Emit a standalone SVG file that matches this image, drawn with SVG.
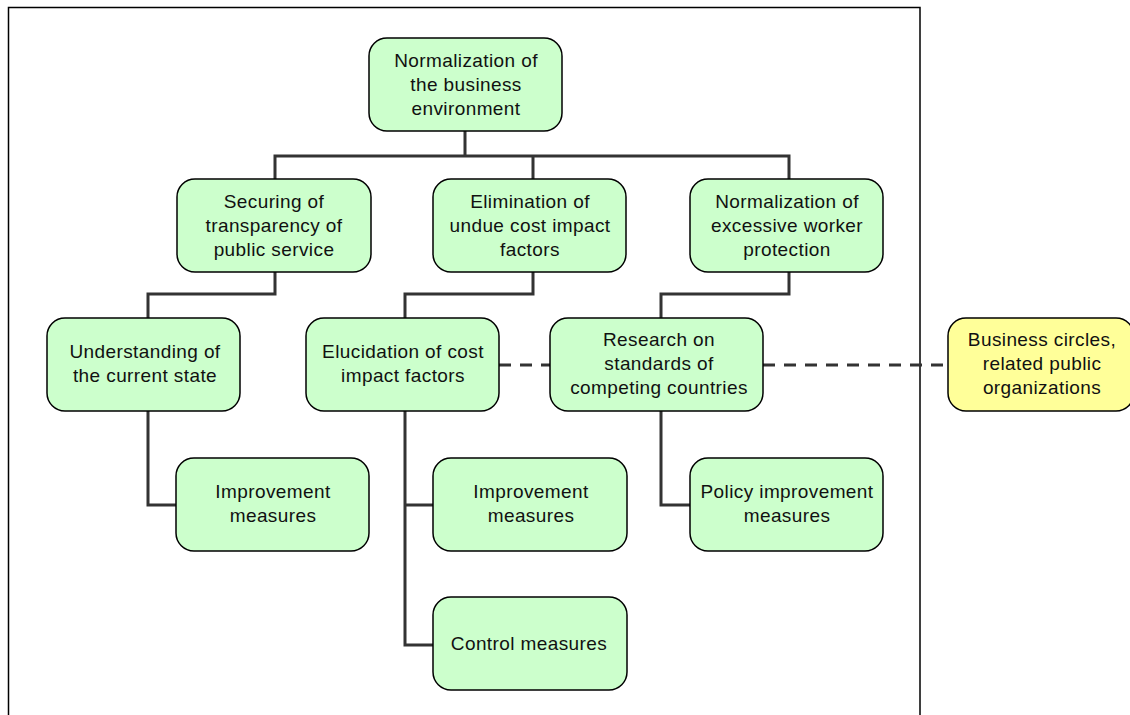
<svg xmlns="http://www.w3.org/2000/svg" width="1130" height="715" viewBox="0 0 1130 715">
  <style>
    .node rect { fill: #ccffcc; stroke: #000; stroke-width: 1.5; }
    .node.ext rect { fill: #ffff99; }
    .node text { font-family: "Liberation Sans", Arial, sans-serif; font-size: 19px; letter-spacing: 0.4px; fill: #111; text-anchor: middle; }
    .link { fill: none; stroke: #333; stroke-width: 3; }
    .dash { fill: none; stroke: #333; stroke-width: 3; stroke-dasharray: 12 9; }
  </style>
  <rect width="1130" height="715" fill="#fff"/>
  <!-- outer frame -->
  <path d="M8.5 715 V7.5 H920 V715" fill="none" stroke="#000" stroke-width="1.5"/>

  <g id="connectors">
    <path class="link" d="M465 131 V156 M275 179 V156 H789 V179 M533 156 V179"/>
    <path class="link" d="M275 272 V294 H148 V318"/>
    <path class="link" d="M533 272 V294 H405 V318"/>
    <path class="link" d="M789 272 V294 H661 V318"/>
    <path class="link" d="M148 411 V505 H176"/>
    <path class="link" d="M405 411 V645 H433 M405 505 H433"/>
    <path class="link" d="M661 411 V505 H690"/>
    <path class="dash" d="M499 365 H550"/>
    <path class="dash" d="M763 365 H948"/>
  </g>

  <g id="n-root" class="node">
    <rect x="369" y="38" width="193" height="93" rx="18"/>
    <text x="466" y="67">Normalization of</text>
    <text x="466" y="91">the business</text>
    <text x="466" y="115">environment</text>
  </g>
  <g id="n-securing" class="node">
    <rect x="177" y="179" width="194" height="93" rx="18"/>
    <text x="274" y="208">Securing of</text>
    <text x="274" y="232">transparency of</text>
    <text x="274" y="256">public service</text>
  </g>
  <g id="n-elimination" class="node">
    <rect x="433" y="179" width="193" height="93" rx="18"/>
    <text x="530" y="208">Elimination of</text>
    <text x="530" y="232">undue cost impact</text>
    <text x="530" y="256">factors</text>
  </g>
  <g id="n-worker" class="node">
    <rect x="690" y="179" width="193" height="93" rx="18"/>
    <text x="787" y="208">Normalization of</text>
    <text x="787" y="232">excessive worker</text>
    <text x="787" y="256">protection</text>
  </g>
  <g id="n-understanding" class="node">
    <rect x="47" y="318" width="193" height="93" rx="18"/>
    <text x="145" y="358">Understanding of</text>
    <text x="145" y="382">the current state</text>
  </g>
  <g id="n-elucidation" class="node">
    <rect x="306" y="318" width="193" height="93" rx="18"/>
    <text x="403" y="358">Elucidation of cost</text>
    <text x="403" y="382">impact factors</text>
  </g>
  <g id="n-research" class="node">
    <rect x="550" y="318" width="213" height="93" rx="18"/>
    <text x="659" y="346">Research on</text>
    <text x="659" y="370">standards of</text>
    <text x="659" y="394">competing countries</text>
  </g>
  <g id="n-business" class="node ext">
    <rect x="948" y="318" width="186" height="93" rx="18"/>
    <text x="1042" y="346">Business circles,</text>
    <text x="1042" y="370">related public</text>
    <text x="1042" y="394">organizations</text>
  </g>
  <g id="n-improve1" class="node">
    <rect x="176" y="458" width="193" height="93" rx="18"/>
    <text x="273" y="498">Improvement</text>
    <text x="273" y="522">measures</text>
  </g>
  <g id="n-improve2" class="node">
    <rect x="433" y="458" width="194" height="93" rx="18"/>
    <text x="531" y="498">Improvement</text>
    <text x="531" y="522">measures</text>
  </g>
  <g id="n-policy" class="node">
    <rect x="690" y="458" width="193" height="93" rx="18"/>
    <text x="787" y="498">Policy improvement</text>
    <text x="787" y="522">measures</text>
  </g>
  <g id="n-control" class="node">
    <rect x="433" y="597" width="194" height="93" rx="18"/>
    <text x="529" y="650">Control measures</text>
  </g>
</svg>
